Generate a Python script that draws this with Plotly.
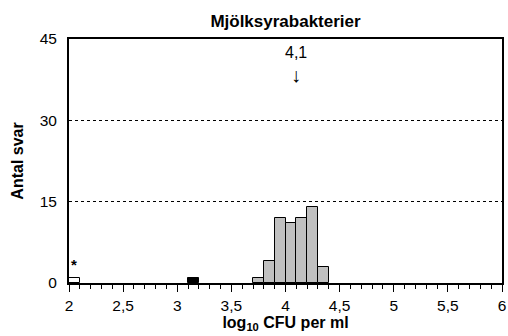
import plotly.graph_objects as go

# Histogram bins (left edge, width 0.1) and counts
gray_bins = [3.7, 3.8, 3.9, 4.0, 4.1, 4.2, 4.3]
gray_counts = [1, 4, 12, 11, 12, 14, 3]
black_bins = [3.1]
black_counts = [1]
white_bins = [2.0]
white_counts = [1]
bin_width = 0.1

median_value = 4.1
median_label = "4,1"
x_tickvals = [2, 2.5, 3, 3.5, 4, 4.5, 5, 5.5, 6]
x_ticktext = ["2", "2,5", "3", "3,5", "4", "4,5", "5", "5,5", "6"]
y_tickvals = [0, 15, 30, 45]

FONT = "Liberation Sans, Arial, sans-serif"

fig = go.Figure()

def add_bars(bins, counts, color):
    fig.add_trace(go.Bar(
        x=[b + bin_width / 2 for b in bins], y=counts, width=bin_width,
        marker=dict(color=color, line=dict(color="black", width=1)),
        showlegend=False, hoverinfo="skip"))

add_bars(gray_bins, gray_counts, "#c0c0c0")
add_bars(black_bins, black_counts, "black")
add_bars(white_bins, white_counts, "white")

fig.add_annotation(x=median_value, y=42.6, text=median_label, showarrow=False,
                   font=dict(family=FONT, size=16, color="black"), xanchor="center", yanchor="middle")
fig.add_annotation(x=median_value, y=38.4, text="↓", showarrow=False,
                   font=dict(family=FONT, size=20, color="black"), xanchor="center", yanchor="middle")
fig.add_annotation(x=white_bins[0] + bin_width / 2, y=3.4, text="<b>*</b>", showarrow=False,
                   font=dict(family=FONT, size=15, color="black"), xanchor="center", yanchor="middle")

fig.update_layout(
    width=508, height=336,
    margin=dict(l=69, r=6, t=39, b=53, autoexpand=False),
    paper_bgcolor="white", plot_bgcolor="white",
    bargap=0,
    font=dict(family=FONT, size=15, color="black"),
    title=dict(text="<b>Mjölksyrabakterier</b>", x=(69 + 502) / 2 / 508, xanchor="center",
               y=1 - 21 / 336, yanchor="middle", font=dict(family=FONT, size=17)),
    xaxis=dict(range=[2, 6], tickvals=x_tickvals, ticktext=x_ticktext, automargin=False,
               ticks="outside", ticklen=7, tickwidth=1, tickcolor="black",
               minor=dict(dtick=0.1, ticks="outside", ticklen=4, tickwidth=1, tickcolor="black", showgrid=False),
               showline=True, linecolor="black", linewidth=2, mirror=True,
               showgrid=False, zeroline=False,
               tickfont=dict(family=FONT, size=15.5),
               title=dict(text="<b>log<sub>10</sub> CFU per ml</b>", font=dict(family=FONT, size=16), standoff=2)),
    yaxis=dict(range=[0, 45], tickvals=y_tickvals, ticks="", ticklabelstandoff=7, automargin=False,
               showline=True, linecolor="black", linewidth=2, mirror=True,
               showgrid=True, gridcolor="black", gridwidth=1, griddash="dot",
               zeroline=False, tickfont=dict(family=FONT, size=15.5),
               title=dict(text="<b>Antal svar</b>", font=dict(family=FONT, size=16), standoff=12)),
)

fig.write_html("out.html")
